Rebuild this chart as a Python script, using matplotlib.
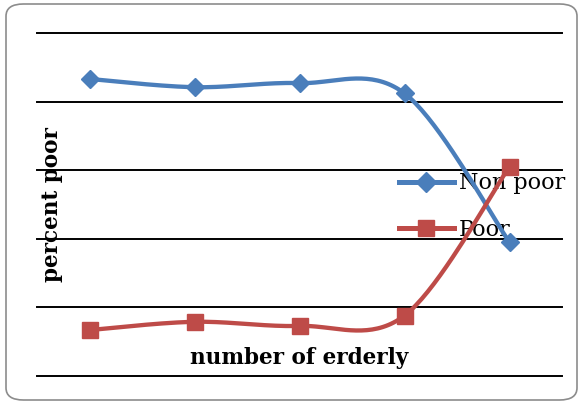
import numpy as np
import matplotlib.pyplot as plt
from matplotlib.patches import FancyBboxPatch

# share of households by number of elderly members (percent)
groups = [1, 2, 3, 4, 5]
non_poor = [86.6, 84.2, 85.4, 82.4, 39.0]
poor = [13.4, 15.8, 14.6, 17.6, 61.0]

# pixel size of one category step and one percent, used so the smoothing
# behaves like it would on screen
X_PX = 105.0
Y_PX = 3.43


def smooth(xs, ys, n=40):
    # cubic bezier through every point, control points from neighbours
    px = np.asarray(xs, float) * X_PX
    py = np.asarray(ys, float) * Y_PX
    pts = np.column_stack([px, py])
    out = [pts[0]]
    for i in range(len(pts) - 1):
        p0 = pts[max(i - 1, 0)]
        p1 = pts[i]
        p2 = pts[i + 1]
        p3 = pts[min(i + 2, len(pts) - 1)]
        c1 = p1 + (p2 - p0) / 6.0
        c2 = p2 - (p3 - p1) / 6.0
        t = np.linspace(0, 1, n)[1:, None]
        seg = ((1 - t) ** 3 * p1 + 3 * (1 - t) ** 2 * t * c1
               + 3 * (1 - t) * t ** 2 * c2 + t ** 3 * p2)
        out.extend(seg)
    out = np.array(out)
    return out[:, 0] / X_PX, out[:, 1] / Y_PX


blue = "#4a7ebb"
red = "#be4b48"

fig = plt.figure(figsize=(5.82, 4.05), dpi=100, facecolor="white")
fig.patches.append(FancyBboxPatch((6 / 582, 5 / 405), 571 / 582, 396 / 405,
                                  boxstyle="round,pad=0,rounding_size=0.03",
                                  transform=fig.transFigure, fc="none",
                                  ec="#8c8c8c", lw=1.2, zorder=0))

ax = fig.add_axes([37 / 582, 29 / 405, 525 / 582, 343 / 405])
ax.set_facecolor("none")
ax.set_xlim(0.5, 5.5)
ax.set_ylim(0, 100)
for v in range(0, 101, 20):
    ax.axhline(v, color="black", lw=1.4, zorder=1, clip_on=False)
for s in ax.spines.values():
    s.set_visible(False)
ax.set_xticks([])
ax.set_yticks([])

sx, sy = smooth(groups, non_poor)
ax.plot(sx, sy, color=blue, lw=3.1, zorder=3, solid_capstyle="round")
ax.plot(groups, non_poor, ls="none", marker="D", ms=9, color=blue, zorder=4)
sx, sy = smooth(groups, poor)
ax.plot(sx, sy, color=red, lw=3.1, zorder=3, solid_capstyle="round")
ax.plot(groups, poor, ls="none", marker="s", ms=11, color=red, zorder=4)

# legend handles drawn separately so the data lines sit on top of it
h1, = ax.plot([], [], color=blue, lw=3.6, marker="D", ms=10)
h2, = ax.plot([], [], color=red, lw=3.6, marker="s", ms=12)
leg = ax.legend([h1, h2], ["Non poor", "Poor"], loc="center left",
                bbox_to_anchor=(0.69, 0.494), frameon=False, handlelength=2.45,
                handletextpad=0.22, labelspacing=1.1, borderpad=0,
                borderaxespad=0, prop={"family": "DejaVu Serif", "size": 16})
leg.set_zorder(2)

fig.text(52 / 582, 1 - 205 / 405, "percent poor", rotation=90, ha="center",
         va="center", family="DejaVu Serif", weight="bold", fontsize=15.5)
fig.text(299.5 / 582, 1 - 358 / 405, "number of erderly", ha="center",
         va="center", family="DejaVu Serif", weight="bold", fontsize=15.5)

fig.savefig("out.png", dpi=100)
